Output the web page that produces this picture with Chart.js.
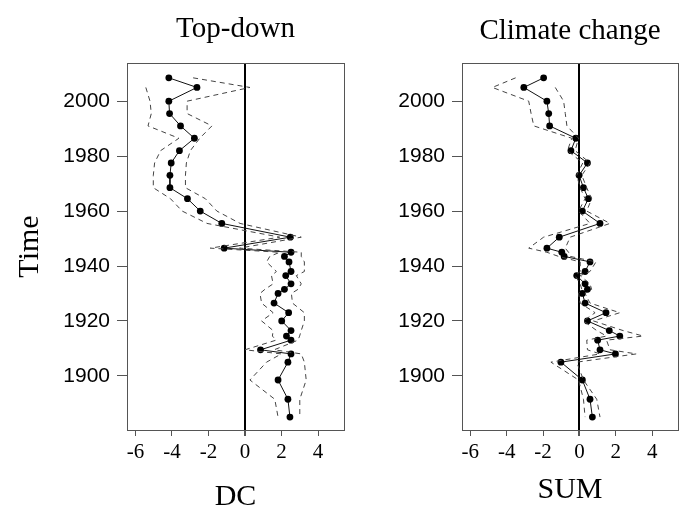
<!DOCTYPE html>
<html>
<head>
<meta charset="utf-8">
<script src="https://cdn.jsdelivr.net/npm/chart.js@4.4.1/dist/chart.umd.min.js"></script>
<style>
body{margin:0;background:#fff;}
#wrap{position:relative;width:686px;height:519px;}
canvas{position:absolute;top:0;}
</style>
</head>
<body>
<div id="wrap">
<canvas id="chartDC" width="350" height="519" style="left:0px"></canvas>
<canvas id="chartSUM" width="336" height="519" style="left:350px"></canvas>
</div>
<script>
// time of each estimate (same for both panels)
var years = [2008.5, 2005, 2000, 1995.5, 1991, 1986.5, 1982, 1977.5, 1973, 1968.5, 1964.5, 1960, 1955.5,
	1950.5, 1946.5, 1945, 1943.5, 1941.5, 1938, 1936.5, 1933.5, 1931.5, 1930, 1926.5, 1923, 1920,
	1916.5, 1914.5, 1913, 1909.5, 1908, 1905, 1898.5, 1891.5, 1885];

// Top-down panel (DC)
var dcMean = [-4.17, -2.63, -4.17, -4.13, -3.53, -2.77, -3.59, -4.04, -4.11, -4.11, -3.15, -2.45, -1.27,
	2.48, -1.14, 2.52, 2.16, 2.41, 2.52, 2.23, 2.52, 2.16, 1.81, 1.59, 2.39, 2.01,
	2.52, 2.27, 2.52, 0.85, 2.52, 2.35, 1.81, 2.35, 2.46];
var dcLow = [null, -5.43, -5.2, -5.13, -5.31, -3.62, -4.62, -4.95, -5.02, -5.02, -4.08, -3.44, -2.08,
	1.9, -1.9, 1.9, 1.36, 1.18, 1.72, 1.45, 1.54, 1.09, 0.82, 0.91, 1.54, 0.91,
	1.54, 1.5, 1.7, 0.0, 1.99, 1.18, 0.27, 1.63, 1.81];
var dcHigh = [-2.84, 0.27, -3.17, -3.17, -1.81, -2.48, -2.99, -3.21, -3.26, -3.26, -2.17, -1.54, -0.27,
	3.08, -0.3, 3.08, 3.08, 3.25, 3.25, 2.81, 3.08, 2.9, 2.54, 2.6, 3.25, 3.25,
	3.08, 2.99, 2.9, 1.6, 3.08, 3.25, 3.35, 3.0, 3.0];

// Climate change panel (SUM)
var sumMean = [-1.97, -3.06, -1.79, -1.69, -1.64, -0.2, -0.47, 0.44, -0.02, 0.22, 0.49, 0.16, 1.13,
	-1.11, -1.79, -0.97, -0.84, 0.58, 0.31, -0.15, 0.31, 0.44, 0.16, 0.31, 1.46, 0.44,
	1.64, 2.22, 1.0, 1.13, 1.98, -1.02, 0.16, 0.58, 0.71];
var sumLow = [-3.51, -4.79, -2.79, -2.66, -2.51, -0.42, -0.66, 0.18, -0.15, 0.04, 0.31, -0.05, 0.58,
	-1.97, -2.79, -1.79, -1.15, 0.04, 0.04, -0.24, 0.04, 0.13, -0.05, 0.04, 0.86, 0.22,
	0.95, 1.49, 0.4, 0.44, 1.13, -1.57, -0.05, 0.22, 0.31];
var sumHigh = [null, -1.33, -0.87, -0.78, -0.69, -0.05, -0.24, 0.58, 0.13, 0.4, 0.67, 0.4, 1.68,
	-0.51, -0.78, -0.6, -0.51, 0.91, 0.58, 0.04, 0.58, 0.67, 0.31, 0.58, 2.22, 0.77,
	2.4, 3.5, 1.49, 1.68, 3.13, -0.15, 0.22, 0.95, 1.13];

var xTicks = [-6, -4, -2, 0, 2, 4];
var yTicks = [1900, 1920, 1940, 1960, 1980, 2000];

function pts(vals){
	var out = [];
	for (var i = 0; i < vals.length; i++) {
		if (vals[i] !== null) out.push({x: vals[i], y: years[i]});
	}
	return out;
}

// frame round the plot + panel title
var framePlugin = {
	id: 'frame',
	afterDraw: function(chart, args, opts){
		var a = chart.chartArea, ctx = chart.ctx;
		ctx.save();
		ctx.strokeStyle = '#555';
		ctx.lineWidth = 1;
		ctx.strokeRect(Math.round(a.left) + 0.5, Math.round(a.top) + 0.5,
			Math.round(a.right - a.left), Math.round(a.bottom - a.top));
		ctx.fillStyle = '#000';
		ctx.font = '29px "Liberation Serif"';
		ctx.textAlign = 'center';
		ctx.textBaseline = 'alphabetic';
		ctx.fillText(opts.text, (a.left + a.right) / 2, opts.y);
		ctx.restore();
	}
};

function makePanel(id, title, titleY, mean, low, high, opt){
	var dash = {
		type: 'scatter', showLine: true, pointRadius: 0, borderColor: '#444',
		borderWidth: 1, borderDash: [5, 4], tension: 0, fill: false
	};
	return new Chart(document.getElementById(id), {
		type: 'scatter',
		data: {
			datasets: [
				Object.assign({label: 'low', data: pts(low)}, dash),
				Object.assign({label: 'high', data: pts(high)}, dash),
				{
					label: 'estimate', data: pts(mean), showLine: true, tension: 0,
					borderColor: '#111', borderWidth: 1,
					pointRadius: 3.4, pointBackgroundColor: '#000', pointBorderWidth: 0
				}
			]
		},
		plugins: [framePlugin],
		options: {
			responsive: false,
			animation: false,
			layout: {padding: {top: 63, right: opt.padRight, bottom: 0, left: 0}},
			plugins: {
				legend: {display: false},
				tooltip: {enabled: false},
				frame: {text: title, y: titleY}
			},
			scales: {
				x: {
					type: 'linear', min: -6.46, max: 5.42,
					afterBuildTicks: function(s){ s.ticks = xTicks.map(function(v){ return {value: v}; }); },
					afterFit: function(s){ s.height = 89; },
					border: {display: false},
					grid: {
						drawOnChartArea: true,
						color: function(c){ return c.tick && c.tick.value === 0 ? '#000' : 'rgba(0,0,0,0)'; },
						lineWidth: function(c){ return c.tick && c.tick.value === 0 ? 2 : 1; },
						tickColor: '#555', tickLength: 6
					},
					ticks: {
						color: '#000', padding: 4, maxRotation: 0,
						font: {family: '"Liberation Serif"', size: 21},
						callback: function(v){ return String(v); }
					},
					title: {
						display: true, text: opt.xTitle, color: '#000',
						font: {family: '"Liberation Serif"', size: 30},
						padding: {top: 0, bottom: opt.xTitlePad}
					}
				},
				y: {
					type: 'linear', min: 1880.3, max: 2013.9,
					afterBuildTicks: function(s){ s.ticks = yTicks.map(function(v){ return {value: v}; }); },
					afterFit: function(s){ s.width = opt.yWidth; },
					border: {display: false},
					grid: {drawOnChartArea: false, tickColor: '#555', tickLength: 10},
					ticks: {
						color: '#000', padding: 7,
						font: {family: '"Liberation Sans"', size: 21},
						callback: function(v){ return String(v); }
					},
					title: {
						display: opt.yTitle !== '', text: opt.yTitle, color: '#000',
						font: {family: '"Liberation Serif"', size: 30},
						padding: {top: 12, bottom: 0}
					}
				}
			}
		}
	});
}

makePanel('chartDC', 'Top-down', 37, dcMean, dcLow, dcHigh,
	{padRight: 6, yWidth: 127, xTitle: 'DC', xTitlePad: 4, yTitle: 'Time'});
makePanel('chartSUM', 'Climate change', 39, sumMean, sumLow, sumHigh,
	{padRight: 8, yWidth: 112, xTitle: 'SUM', xTitlePad: 11, yTitle: ''});
</script>
</body>
</html>
